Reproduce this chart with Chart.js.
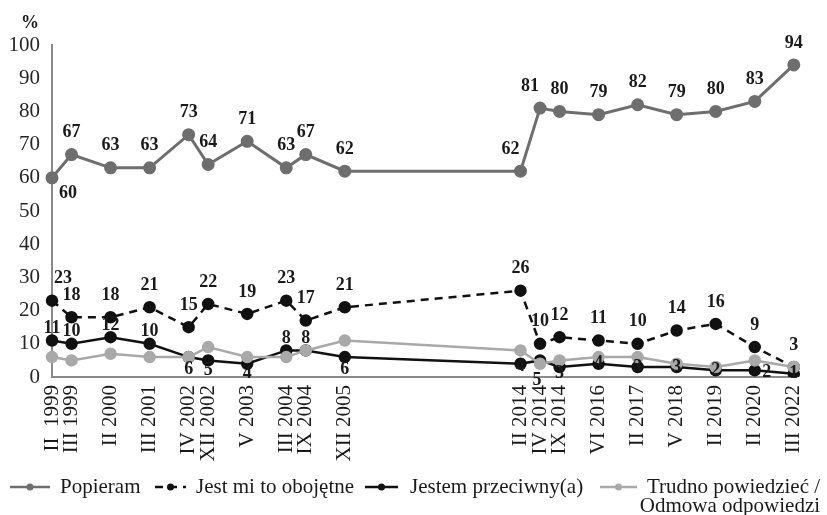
<!DOCTYPE html>
<html><head><meta charset="utf-8">
<script src="https://cdn.jsdelivr.net/npm/chart.js@4"></script>
<style>html,body{margin:0;padding:0;background:#fff}#wrap{width:827px;height:515px;position:relative}</style>
</head><body><div id="wrap"><canvas id="c"></canvas></div>
<script>
// survey waves and their slot on the (gapped) category axis
const periods = ['II  1999','III 1999','II 2000','III 2001','IV 2002','XII 2002','V 2003','III 2004','IX 2004','XII 2005',
  'II 2014','IV 2014','IX 2014','VI 2016','II 2017','V 2018','II 2019','II 2020','III 2022'];
const slots = [0,1,3,5,7,8,10,12,13,15,24,25,26,28,30,32,34,36,38];
const popieram   = [60,67,63,63,73,64,71,63,67,62,62,81,80,79,82,79,80,83,94];
const obojetne   = [23,18,18,21,15,22,19,23,17,21,26,10,12,11,10,14,16,9,3];
const przeciwny  = [11,10,12,10,6,5,4,8,8,6,4,5,3,4,3,3,2,2,1];
const trudno     = [6,5,7,6,6,9,6,6,8,11,8,4,5,6,6,4,3,5,3];
const seriesNames = ['Popieram','Jest mi to obojętne','Jestem przeciwny(a)',['Trudno powiedzieć /','Odmowa odpowiedzi']];
const yTicks = [0,10,20,30,40,50,60,70,80,90,100];

const nSlots = slots[slots.length-1] + 1;
const labels = Array(nSlots).fill('');
slots.forEach((s,i) => labels[s] = periods[i]);
function toSlots(arr){ const out = Array(nSlots).fill(null); slots.forEach((s,i) => out[s] = arr[i]); return out; }

const SERIF = "'Liberation Serif','Times New Roman',serif";
const C_POP = '#6e6e6e', C_BLK = '#111111', C_GRY = '#a9a9a9', C_AX = '#8a8a8a';

// label offsets [dx,dy] per wave (null = no labels)
const up = [0,-22];
const labelPlace = [
  periods.map((p,i) => i===0 ? [16,16] : (i===10||i===11) ? [-10,-22] : up),
  periods.map((p,i) => i===0 ? [11,-22] : up),
  [[0,-12],[0,-12],[0,-12],[0,-12],[0,12],[0,10],[0,10],[0,-12],[0,-12],[0,12],[0,3],[-3,20],[0,6],[0,0],[0,0],[0,0],[0,0],[12,2],[0,0]],
  null
];

const labelPlugin = {
  id:'vals',
  afterDatasetsDraw(chart){
    const ctx = chart.ctx;
    ctx.save();
    ctx.font = 'bold 18px ' + SERIF;
    ctx.textAlign = 'center'; ctx.textBaseline = 'middle';
    ctx.fillStyle = '#1a1a1a';
    chart.data.datasets.forEach((ds,di) => {
      const place = labelPlace[di]; if (!place) return;
      const meta = chart.getDatasetMeta(di);
      slots.forEach((s,i) => {
        const pt = meta.data[s];
        ctx.fillText(String(ds.data[s]), pt.x + place[i][0], pt.y + place[i][1]);
      });
    });
    ctx.restore();
  },
  afterDraw(chart){
    const ctx = chart.ctx;
    ctx.save();
    ctx.fillStyle = '#1a1a1a';
    ctx.font = 'bold 18px ' + SERIF;
    ctx.textAlign = 'center'; ctx.textBaseline = 'middle';
    ctx.fillText('%', 30, 23);
    // legend
    const items = [
      {x0:10, x1:50, tx:60},
      {x0:155, x1:186, tx:196},
      {x0:365, x1:398, tx:410},
      {x0:600, x1:637, tx:647}
    ];
    const ly = 487;
    ctx.font = '21px ' + SERIF;
    ctx.textAlign = 'left';
    chart.data.datasets.forEach((ds,di) => {
      const it = items[di];
      ctx.strokeStyle = ds.borderColor; ctx.lineWidth = 2.5;
      ctx.setLineDash(ds.borderDash || []);
      ctx.beginPath(); ctx.moveTo(it.x0, ly); ctx.lineTo(it.x1, ly); ctx.stroke();
      ctx.setLineDash([]);
      ctx.fillStyle = ds.pointBackgroundColor;
      ctx.beginPath(); ctx.arc((it.x0+it.x1)/2, ly, 3.5, 0, Math.PI*2); ctx.fill();
      ctx.fillStyle = '#1a1a1a';
      const name = seriesNames[di];
      if (Array.isArray(name)) {
        const w = ctx.measureText(name[0]).width;
        ctx.fillText(name[0], it.tx, ly);
        ctx.textAlign = 'right';
        ctx.fillText(name[1], it.tx + w, ly + 19);
        ctx.textAlign = 'left';
      } else {
        ctx.fillText(name, it.tx, ly);
      }
    });
    ctx.restore();
  }
};

function ds(label, data, color, extra){
  return Object.assign({
    label, data: toSlots(data), borderColor: color, backgroundColor: color,
    pointBackgroundColor: color, pointBorderColor: color,
    borderWidth: 2.5, pointRadius: 5, pointHoverRadius: 5, tension: 0, spanGaps: true, fill: false
  }, extra || {});
}

new Chart(document.getElementById('c'), {
  type: 'line',
  data: {
    labels,
    datasets: [
      ds('Popieram', popieram, C_POP, {borderWidth: 3, order: 3}),
      ds('Jest mi to obojętne', obojetne, C_BLK, {borderDash: [8,6], order: 2}),
      ds('Jestem przeciwny(a)', przeciwny, C_BLK, {order: 1}),
      ds('Trudno powiedzieć / Odmowa odpowiedzi', trudno, C_GRY, {order: 0})
    ]
  },
  options: {
    responsive: true, maintainAspectRatio: false, animation: false,
    layout: { padding: { top: 45, right: 12, bottom: 0, left: 0 } },
    plugins: { legend: { display: false }, tooltip: { enabled: false } },
    scales: {
      x: {
        offset: false,
        grid: { display: false, drawTicks: false },
        border: { display: true, color: C_AX, width: 2 },
        ticks: { autoSkip: false, minRotation: 90, maxRotation: 90, padding: 8,
                 color: '#1a1a1a', font: { family: SERIF, size: 21 } },
        afterFit: s => { s.height = 138; }
      },
      y: {
        min: 0, max: 100,
        grid: { display: false, drawTicks: false },
        border: { display: true, color: C_AX, width: 2 },
        afterBuildTicks: s => { s.ticks = yTicks.map(v => ({value: v})); },
        ticks: { padding: 12, color: '#262626', font: { family: SERIF, size: 21 } },
        afterFit: s => { s.width = 52; }
      }
    }
  },
  plugins: [labelPlugin]
});
</script>
</body></html>
